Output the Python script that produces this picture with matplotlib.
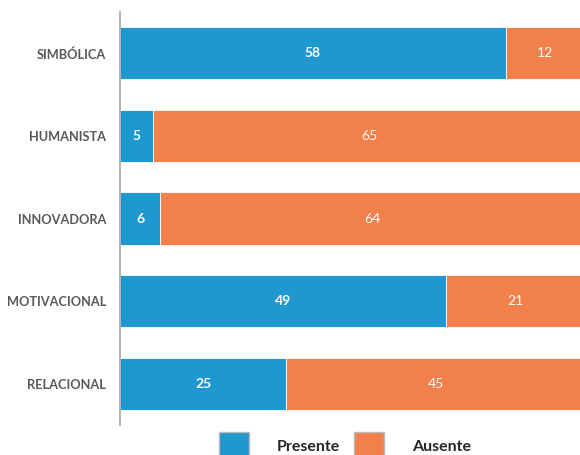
import numpy as np
import matplotlib; matplotlib.use('Agg')
import matplotlib.pyplot as plt
from matplotlib.patches import Patch

categorias = ['SIMBÓLICA', 'HUMANISTA', 'INNOVADORA', 'MOTIVACIONAL', 'RELACIONAL']
presente = [58, 5, 6, 49, 25]
ausente = [12, 65, 64, 21, 45]

azul = '#1F97CF'
naranja = '#F2804A'

plt.rcParams['font.family'] = ['Lato', 'DejaVu Sans']
fig = plt.figure(figsize=(5.8, 4.55), dpi=100)
ax = fig.add_axes([120/580, 1-425/455, 1-120/580, 413/455])

y = np.arange(len(categorias))
ax.barh(y, presente, height=0.63, color=azul, edgecolor='white', linewidth=0.6)
ax.barh(y, ausente, left=presente, height=0.63, color=naranja, edgecolor='white', linewidth=0.6)
for i in range(len(categorias)):
    ax.text(presente[i]/2, y[i], str(presente[i]), ha='center', va='center',
            color='white', fontsize=10, fontweight='bold')
    ax.text(presente[i] + ausente[i]/2, y[i], str(ausente[i]), ha='center', va='center',
            color='white', fontsize=10)

ax.set_ylim(4.5, -0.5)
ax.set_xlim(0, 69.2)
ax.set_yticks(y)
ax.set_yticklabels(categorias, fontsize=9.2, color='#595959', fontweight='bold')
ax.tick_params(axis='y', length=0, pad=10)
ax.set_xticks([])
for s in ['top', 'right', 'bottom']:
    ax.spines[s].set_visible(False)
ax.spines['left'].set_color('#A6A6A6')
ax.spines['left'].set_linewidth(1.2)

handles = [Patch(facecolor=azul, edgecolor='#bbbbbb', label='Presente'),
           Patch(facecolor=naranja, edgecolor='#bbbbbb', label='Ausente')]
fig.legend(handles=handles, loc='upper left', bbox_to_anchor=(219/580, 1-432/455),
           ncol=2, frameon=False, handlelength=1.9, handleheight=2.4,
           handletextpad=1.7, columnspacing=0.9, borderaxespad=0, borderpad=0,
           prop={'weight': 'bold', 'size': 11.5})
for t in fig.legends[0].get_texts():
    t.set_color('#262626')

fig.savefig('out.png', dpi=100)
